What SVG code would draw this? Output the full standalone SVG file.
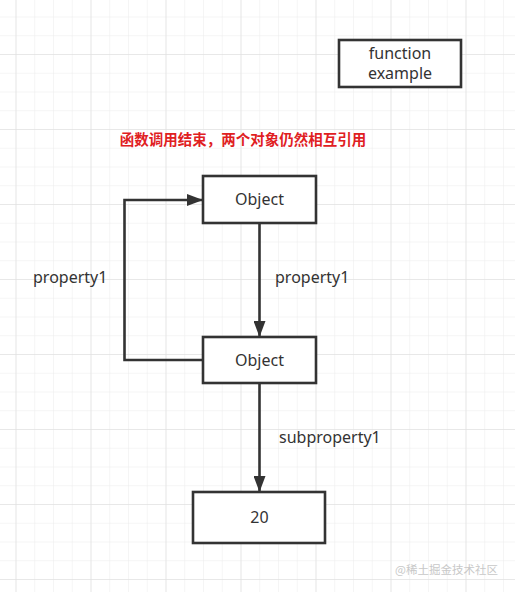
<svg xmlns="http://www.w3.org/2000/svg" width="515" height="592" viewBox="0 0 515 592">
<defs>
<pattern id="minor" x="15.5" y="16.5" width="18.75" height="18.75" patternUnits="userSpaceOnUse">
<path d="M0 0V18.75M0 0H18.75" fill="none" stroke="#ececec" stroke-width="1"/>
</pattern>
<pattern id="major" x="15.5" y="54" width="75" height="75" patternUnits="userSpaceOnUse">
<path d="M0 0V75M0 0H75" fill="none" stroke="#dcdcdc" stroke-width="1"/>
</pattern>
<marker id="arr" viewBox="0 0 16 12" refX="15" refY="6" markerWidth="16" markerHeight="12" markerUnits="userSpaceOnUse" orient="auto">
<path d="M0 0L16 6L0 12Z" fill="#333"/>
</marker>
<style>
.box{fill:#fff;stroke:#333;stroke-width:2.6}
.lbl{font-family:"Noto Sans","Liberation Sans",sans-serif;font-size:16px;fill:#333}
.c{text-anchor:middle}
.edge{fill:none;stroke:#333;stroke-width:2.6}
</style>
</defs>
<rect width="515" height="592" fill="#fff"/>
<rect width="515" height="592" fill="url(#minor)"/>
<rect width="515" height="592" fill="url(#major)"/>

<g id="connectors">
<path class="edge" d="M259.5 224V336" marker-end="url(#arr)"/>
<path class="edge" d="M203 360H124.5V200H202" marker-end="url(#arr)"/>
<path class="edge" d="M259.5 384V491" marker-end="url(#arr)"/>
<text class="lbl" x="275" y="283">property1</text>
<text class="lbl" x="33" y="283">property1</text>
<text class="lbl" x="279" y="443">subproperty1</text>
</g>

<g id="function-example">
<rect class="box" x="339" y="40" width="122" height="47"/>
<text class="lbl c" x="400" y="59">function</text>
<text class="lbl c" x="400" y="79">example</text>
</g>

<g id="note">
<text x="243" y="145" text-anchor="middle" font-family="'Noto Sans CJK SC',sans-serif" font-size="14.5" font-weight="bold" fill="#e0201f">函数调用结束，两个对象仍然相互引用</text>
</g>

<g id="object1">
<rect class="box" x="203" y="176" width="113" height="47"/>
<text class="lbl c" x="259.5" y="205">Object</text>
</g>

<g id="object2">
<rect class="box" x="203" y="337" width="113" height="46"/>
<text class="lbl c" x="259.5" y="366">Object</text>
</g>

<g id="value20">
<rect class="box" x="193" y="492" width="132" height="51"/>
<text class="lbl c" x="259.5" y="523">20</text>
</g>

<g id="watermark">
<text x="498" y="574" text-anchor="end" font-family="'Noto Sans CJK SC',sans-serif" font-size="11.5" fill="#c8c8c8">@稀土掘金技术社区</text>
</g>
</svg>
